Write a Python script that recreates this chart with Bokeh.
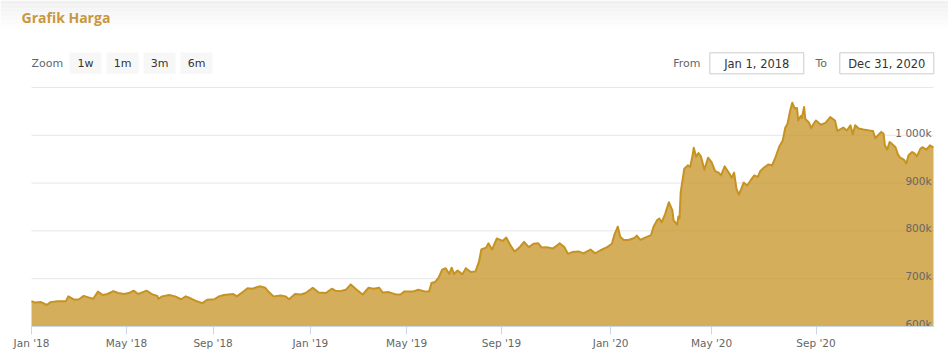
from bokeh.plotting import figure
from bokeh.layouts import column
from bokeh.models import FixedTicker, Range1d
from bokeh.core.properties import value
from bokeh.embed import file_html
from bokeh.resources import INLINE

# ---------------- data ----------------
TITLE = "Grafik Harga"
ZOOM_LABEL = "Zoom"
ZOOM_BUTTONS = ["1w", "1m", "3m", "6m"]
FROM_LABEL = "From"
TO_LABEL = "To"
DATE_FROM = "Jan 1, 2018"
DATE_TO = "Dec 31, 2020"

# trading-session index on the ordinal time axis (0 = Jan 1 2018, 760 = Dec 31 2020)
SESSIONS = [0, 3, 8, 13, 16, 22, 29, 31, 36, 40,
            44, 48, 52, 56, 60, 64, 69, 73, 78, 82,
            86, 90, 97, 102, 106, 107, 110, 116, 121, 126,
            130, 134, 138, 144, 148, 154, 158, 162, 166, 170,
            173, 178, 182, 186, 192, 197, 200, 204, 210, 214,
            217, 222, 227, 231, 237, 242, 248, 253, 256, 260,
            265, 269, 274, 279, 284, 288, 293, 296, 301, 307,
            311, 314, 321, 326, 332, 335, 337, 340, 343, 346,
            349, 352, 354, 356, 359, 363, 366, 370, 374, 377,
            379, 383, 385, 388, 392, 397, 400, 404, 407, 411,
            415, 419, 423, 427, 430, 434, 439, 442, 445, 449,
            452, 456, 461, 465, 471, 475, 479, 485, 489, 491,
            494, 496, 499, 503, 508, 510, 513, 517, 522, 524,
            527, 529, 531, 534, 537, 540, 541, 544, 545, 546,
            547, 550, 553, 555, 557, 558, 560, 562, 564, 567,
            570, 573, 576, 579, 581, 584, 588, 590, 592, 594,
            596, 598, 600, 603, 606, 609, 612, 614, 617, 621,
            624, 627, 630, 633, 635, 637, 639, 641, 643, 645,
            646, 648, 649, 651, 652, 655, 657, 659, 661, 665,
            669, 673, 677, 679, 684, 687, 690, 692, 694, 697,
            701, 706, 709, 711, 714, 716, 718, 719, 721, 723,
            725, 728, 730, 732, 735, 737, 739, 742, 744, 746,
            749, 751, 754, 757, 760]

# price in thousands (k)
PRICES_K = [653, 650, 651, 645, 651, 653, 653, 663, 656, 657,
            664, 661, 658, 673, 666, 668, 674, 670, 668, 670,
            675, 668, 675, 667, 664, 658, 663, 666, 663, 657,
            663, 659, 654, 649, 656, 657, 663, 666, 667, 668,
            663, 672, 680, 679, 684, 681, 672, 663, 665, 663,
            657, 668, 667, 670, 681, 671, 670, 679, 675, 674,
            677, 688, 677, 667, 681, 679, 681, 671, 672, 667,
            667, 673, 673, 677, 673, 673, 691, 693, 702, 719,
            722, 710, 723, 710, 717, 709, 722, 714, 715, 735,
            761, 765, 774, 761, 784, 779, 786, 768, 757, 765,
            777, 766, 773, 774, 765, 766, 763, 768, 774, 766,
            752, 756, 757, 753, 761, 753, 759, 766, 773, 791,
            809, 788, 781, 781, 785, 790, 781, 786, 791, 808,
            822, 826, 818, 836, 860, 843, 822, 813, 830, 826,
            881, 930, 937, 934, 958, 974, 955, 963, 956, 928,
            953, 944, 925, 922, 916, 935, 920, 911, 922, 888,
            876, 888, 901, 895, 906, 916, 913, 925, 932, 939,
            937, 955, 976, 989, 1015, 1024, 1049, 1068, 1056, 1057,
            1031, 1040, 1036, 1059, 1034, 1027, 1015, 1024, 1031, 1022,
            1026, 1038, 1031, 1009, 1016, 1010, 1021, 1002, 1021, 1014,
            1012, 1010, 1009, 994, 1002, 1007, 1003, 979, 970, 986,
            982, 975, 960, 953, 949, 941, 958, 965, 962, 956,
            972, 975, 970, 979, 974]

TICK_SESSIONS = [0, 80, 153, 235, 316, 396, 488, 573, 661]
TICK_LABELS = ["Jan '18", "May '18", "Sep '18", "Jan '19", "May '19",
               "Sep '19", "Jan '20", "May '20", "Sep '20"]
Y_GRID = [600, 700, 800, 900, 1000, 1100]
Y_LABEL_VALUES = [600, 700, 800, 900, 1000]
Y_LABELS = ["600k", "700k", "800k", "900k", "1 000k"]

assert len(SESSIONS) == len(PRICES_K)

# ---------------- styles / geometry ----------------
GOLD = "#C69323"
TITLE_COLOR = "#C9973F"
FONT = "DejaVu Sans"
W = 948
HDR_H = 78
MAIN_H = 277
PLOT_LEFT, PLOT_RIGHT = 31, 933          # pixel extent of the series
N_LAST = SESSIONS[-1]
PX_PER_SESSION = (PLOT_RIGHT - PLOT_LEFT) / N_LAST
X_START = -PLOT_LEFT / PX_PER_SESSION
X_END = N_LAST + (W - PLOT_RIGHT) / PX_PER_SESSION

# ---------------- header (title + range selector) ----------------
hdr = figure(width=W, height=HDR_H, x_range=Range1d(0, W), y_range=Range1d(HDR_H, 0),
             output_backend="svg", toolbar_location=None,
             x_axis_location=None, y_axis_location=None,
             min_border=0, min_border_left=0, min_border_right=0,
             min_border_top=0, min_border_bottom=0, outline_line_color=None)
hdr.grid.visible = False

band_cols = ["#f1f1f1", "#f3f3f3", "#f5f5f5", "#f7f7f7", "#f9f9f9", "#fbfbfb", "#fdfdfd"]
hdr.quad(left=0, right=W, top=[i * 4 for i in range(7)], bottom=[i * 4 + 4 for i in range(7)],
         fill_color=band_cols, line_color=None)

hdr.text(x=[21], y=[17], text=[TITLE], text_font=value("Open Sans"), text_font_style="bold",
         text_font_size="14px", text_color=TITLE_COLOR, text_baseline="alphabetic", text_align="left")

hdr.text(x=[31], y=[62.5], text=[ZOOM_LABEL], text_font=value(FONT), text_font_size="11px",
         text_color="#666666", text_baseline="middle", text_align="left")

btn_left = [69, 106, 143, 180]
hdr.quad(left=btn_left, right=[b + 32 for b in btn_left], top=52, bottom=73.3,
         fill_color="#f7f7f7", line_color=None)
hdr.text(x=[b + 16 for b in btn_left], y=62.5, text=ZOOM_BUTTONS, text_font=value(FONT),
         text_font_size="11px", text_color="#333333", text_baseline="middle", text_align="center")

hdr.text(x=[672.7, 815], y=62.5, text=[FROM_LABEL, TO_LABEL], text_font=value(FONT),
         text_font_size="11px", text_color="#666666", text_baseline="middle", text_align="left")
box_left = [709.3, 839.3]
hdr.quad(left=box_left, right=[b + 94 for b in box_left], top=52.3, bottom=73.3,
         fill_color="white", line_color="#cccccc", line_width=1)
hdr.text(x=[b + 47 for b in box_left], y=63, text=[DATE_FROM, DATE_TO], text_font=value(FONT),
         text_font_size="11.5px", text_color="#333333", text_baseline="middle", text_align="center")

# ---------------- main chart ----------------
p = figure(width=W, height=MAIN_H, x_range=Range1d(X_START, X_END), y_range=Range1d(600, 1102),
           output_backend="svg", toolbar_location=None, y_axis_location=None,
           min_border_left=0, min_border_right=0, min_border_top=8, min_border_bottom=MAIN_H - 8 - 240,
           outline_line_color=None)

p.xgrid.visible = False
p.ygrid.visible = False

# horizontal grid lines over the series' time extent
p.segment(x0=0, x1=N_LAST, y0=Y_GRID, y1=Y_GRID, line_color="#e6e6e6", line_width=1)

p.varea(x=SESSIONS, y1=0, y2=PRICES_K, fill_color=GOLD, fill_alpha=0.75)
p.line(x=SESSIONS, y=PRICES_K, line_color=GOLD, line_width=2, line_join="round")

p.text(x=[N_LAST] * len(Y_LABEL_VALUES), y=Y_LABEL_VALUES, text=Y_LABELS, x_offset=-2, y_offset=-2.5,
       text_font=value(FONT), text_font_size="10.5px", text_color="#666666",
       text_align="right", text_baseline="alphabetic")

ax = p.xaxis[0]
ax.bounds = (0, N_LAST)
ax.ticker = FixedTicker(ticks=TICK_SESSIONS)
ax.major_label_overrides = dict(zip(TICK_SESSIONS, TICK_LABELS))
ax.axis_line_color = "#ccd6eb"
ax.major_tick_line_color = "#ccd6eb"
ax.major_tick_out = 8
ax.major_tick_in = 0
ax.minor_tick_line_color = None
ax.major_label_text_font = FONT
ax.major_label_text_font_size = "10.5px"
ax.major_label_text_color = "#666666"
ax.major_label_standoff = 2

layout = column(hdr, p, spacing=0)
open("out.html", "w").write(file_html(layout, INLINE))
